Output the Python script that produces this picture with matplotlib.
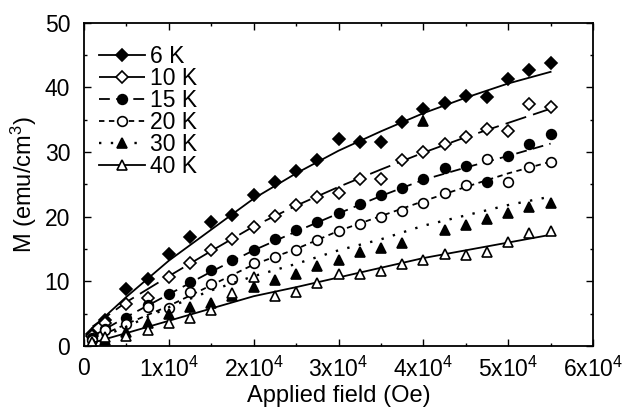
import matplotlib
matplotlib.use("Agg")
import matplotlib.pyplot as plt
from matplotlib.lines import Line2D
from matplotlib.ticker import MultipleLocator

plt.rcParams['font.family'] = ['Liberation Sans', 'DejaVu Sans']
plt.rcParams['font.size'] = 16.5
plt.rcParams['mathtext.fontset'] = 'custom'
plt.rcParams['mathtext.rm'] = 'Liberation Sans'

# measured points (field in Oe, M in emu/cm3)
field = [1000, 2500, 5000, 7500, 10000, 12500, 15000, 17500, 20000, 22500, 25000, 27500,
         30000, 32500, 35000, 37500, 40000, 42500, 45000, 47500, 50000, 52500, 55000]
m_6K = [1.8, 4.0, 8.8, 10.3, 14.3, 16.8, 19.2, 20.2, 23.3, 25.4, 27.1, 28.7,
        32.0, 31.6, 31.5, 34.7, 36.6, 37.6, 38.6, 38.5, 41.3, 42.7, 43.8]
m_10K = [1.5, 3.6, 6.5, 7.5, 10.6, 12.9, 14.8, 16.6, 18.4, 20.1, 21.8, 23.1,
         23.6, 25.9, 25.9, 28.8, 30.0, 31.3, 32.3, 33.6, 33.3, 37.4, 37.0]
m_15K = [1.2, 2.7, 4.4, 6.4, 8.1, 9.9, 11.7, 13.3, 14.9, 16.5, 17.9, 19.2,
         20.5, 21.9, 23.3, 24.5, 25.8, 27.6, 27.8, 25.4, 29.4, 31.2, 32.8]
m_20K = [0.9, 2.5, 3.4, 6.1, 5.9, 8.4, 9.6, 10.4, 12.8, 13.7, 14.8, 16.4,
         17.8, 18.9, 20.0, 20.9, 22.1, 23.6, 24.9, 28.9, 25.4, 27.7, 28.5]
m_30K = [0.3, 1.0, 2.2, 3.5, 5.0, 6.0, 6.6, 7.8, 9.2, 10.2, 11.1, 12.4,
         13.3, 14.6, 15.1, 16.0, 34.8, 17.9, 18.7, 19.6, 20.6, 21.5, 22.1]
m_40K = [0.6, 1.4, 1.6, 2.5, 3.5, 4.4, 5.6, 8.2, 10.6, 7.8, 8.4, 9.7,
         11.1, 11.2, 11.6, 12.7, 13.3, 14.2, 14.1, 14.6, 16.1, 17.5, 17.8]

# fitted curves
fit_field = [1000, 5000, 10000, 15000, 20000, 25000, 30000, 35000, 40000, 45000, 50000, 55000]
fit_6K = [2.8, 7.6, 13.2, 18.0, 22.8, 26.7, 30.2, 33.2, 36.0, 38.4, 40.6, 42.4]
fit_10K = [3.0, 6.8, 10.8, 14.7, 18.5, 21.7, 24.6, 27.3, 29.9, 32.3, 34.5, 36.7]
fit_15K = [1.5, 4.5, 8.0, 11.5, 14.8, 17.7, 20.5, 23.2, 25.7, 27.6, 29.4, 31.3]
fit_20K = [1.0, 3.4, 6.2, 9.4, 12.6, 15.0, 17.8, 20.1, 22.4, 24.6, 26.7, 28.5]
fit_30K = [0.8, 3.0, 6.0, 8.6, 10.8, 12.7, 14.8, 16.5, 18.6, 20.2, 21.8, 23.1]
fit_40K = [0.5, 2.0, 3.9, 5.8, 7.7, 9.1, 10.6, 12.1, 13.6, 14.8, 16.0, 17.2]

labels = ['6 K', '10 K', '15 K', '20 K', '30 K', '40 K']
xticks = [0, 10000, 20000, 30000, 40000, 50000, 60000]
xticklabels = ['0'] + [r'$\mathregular{%dx10^4}$' % i for i in range(1, 7)]

series = [m_6K, m_10K, m_15K, m_20K, m_30K, m_40K]
fits = [fit_6K, fit_10K, fit_15K, fit_20K, fit_30K, fit_40K]
markers = ['D', 'D', 'o', 'o', '^', '^']
faces = ['k', 'w', 'k', 'w', 'k', 'w']
sizes = [6.5, 6.5, 7, 7, 7.5, 7.5]
dashes = [(None, None), (12, 4), (6, 3.5), (3, 2.5), (1, 4), (None, None)]
widths = [1.3, 1.3, 1.3, 1.3, 1.7, 1.3]

fig = plt.figure(figsize=(6.25, 4.09), dpi=100)
ax = fig.add_axes([0.1344, 0.154, 0.8144, 0.7905])

handles = []
for y, f, mk, fc, ms, d, lw, lab in zip(series, fits, markers, faces, sizes, dashes, widths, labels):
    ls = '-' if d[0] is None else (0, d)
    ax.plot(fit_field, f, color='k', lw=lw, linestyle=ls)
    ax.plot(field, y, linestyle='none', marker=mk, ms=ms, mfc=fc, mec='k', mew=1.2)
    handles.append(Line2D([], [], color='k', lw=lw, linestyle=ls, marker=mk, ms=ms,
                          mfc=fc, mec='k', mew=1.2, label=lab))

ax.set_xlim(0, 60000)
ax.set_ylim(0, 50)
ax.set_xticks(xticks)
ax.set_xticklabels(xticklabels)
ax.xaxis.set_minor_locator(MultipleLocator(5000))
ax.yaxis.set_major_locator(MultipleLocator(10))
ax.yaxis.set_minor_locator(MultipleLocator(5))
ax.tick_params(which='both', direction='in', top=True, right=True, width=1)
ax.tick_params(which='major', length=5)
ax.tick_params(which='minor', length=2.5)
ax.tick_params(axis='x', pad=8)
ax.tick_params(axis='y', pad=10)
for s in ax.spines.values():
    s.set_linewidth(1.3)

ax.set_xlabel('Applied field (Oe)', labelpad=2, fontsize=17)
ax.set_ylabel(r'M (emu/cm$\mathregular{^3}$)', labelpad=4, fontsize=17)

ax.legend(handles=handles, loc='upper left', bbox_to_anchor=(0.03, 0.93), frameon=False,
          handlelength=2.0, handletextpad=0.2, labelspacing=-0.05, borderpad=0, borderaxespad=0)

fig.savefig('out.png', dpi=100)
